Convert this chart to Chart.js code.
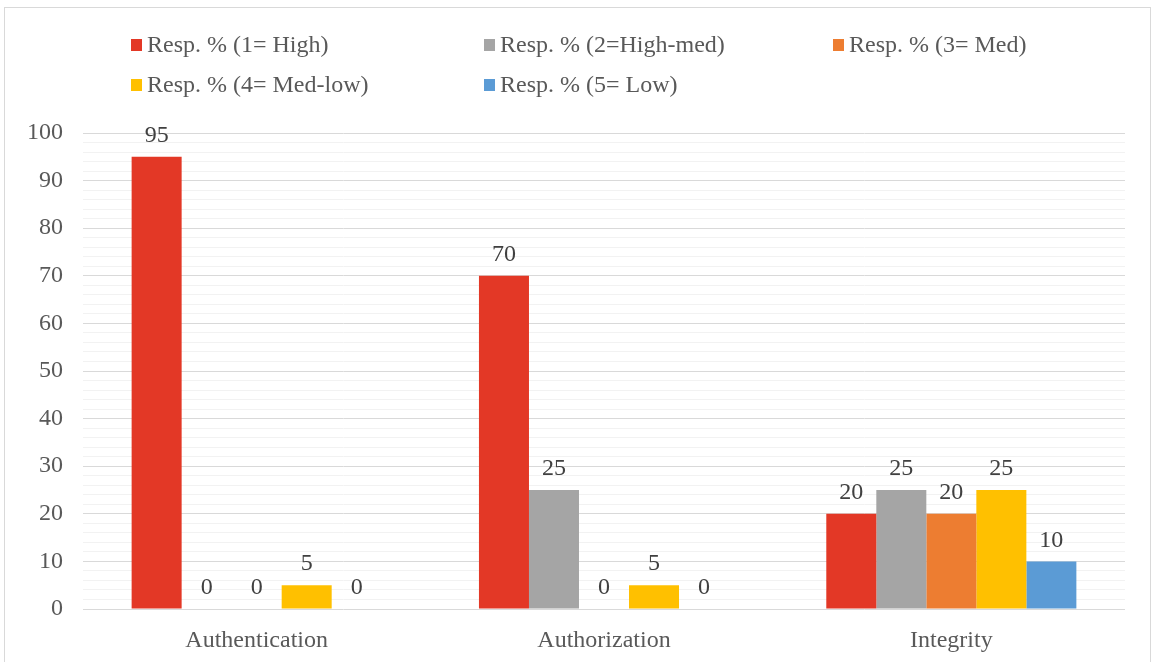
<!DOCTYPE html>
<html>
<head>
<meta charset="utf-8">
<script src="https://cdn.jsdelivr.net/npm/chart.js@4.4.1/dist/chart.umd.min.js"></script>
<style>
  body { margin: 0; background: #fff; }
  #marco { position: absolute; left: 4px; top: 7px; width: 1147px; height: 660px; border: 1px solid #d9d9d9; box-sizing: border-box; }
  #lienzo { position: absolute; left: 0; top: 0; width: 1155px; height: 662px; }
  .leyenda { position: absolute; font-family: 'Liberation Serif', serif; font-size: 24px; color: #595959; white-space: nowrap; line-height: 1; }
  .leyenda span { display: inline-block; width: 11px; height: 12px; margin-right: 5px; vertical-align: 1px; }
</style>
</head>
<body>
<div id="marco"></div>
<div id="lienzo"><canvas id="miGrafica" width="1155" height="662"></canvas></div>
<div id="leyendas"></div>
<script>
// Datos
const categorias = ['Authentication', 'Authorization', 'Integrity'];
const series = ['Resp. % (1= High)', 'Resp. % (2=High-med)', 'Resp. % (3= Med)', 'Resp. % (4= Med-low)', 'Resp. % (5= Low)'];
const alta = [95, 70, 20];
const altaMedia = [0, 25, 25];
const media = [0, 0, 20];
const mediaBaja = [5, 5, 25];
const baja = [0, 0, 10];
const colores = ['#E33826', '#A5A5A5', '#ED7D31', '#FFC000', '#5B9BD5'];

const valores = [alta, altaMedia, media, mediaBaja, baja];

// Leyenda en columnas, como la de Excel
const posLeyenda = [[131, 32], [484, 32], [833, 32], [131, 72], [484, 72]];
const cont = document.getElementById('leyendas');
series.forEach((nombre, i) => {
  const d = document.createElement('div');
  d.className = 'leyenda';
  d.style.left = posLeyenda[i][0] + 'px';
  d.style.top = posLeyenda[i][1] + 'px';
  d.innerHTML = '<span style="background:' + colores[i] + '"></span>' + nombre;
  cont.appendChild(d);
});

// Etiquetas de valor encima de cada barra
const etiquetasValor = {
  id: 'etiquetasValor',
  afterDatasetsDraw(chart) {
    const ctx = chart.ctx;
    ctx.save();
    ctx.font = "24px 'Liberation Serif'";
    ctx.fillStyle = '#404040';
    ctx.textAlign = 'center';
    ctx.textBaseline = 'bottom';
    chart.data.datasets.forEach((ds, i) => {
      chart.getDatasetMeta(i).data.forEach((bar, j) => {
        ctx.fillText(ds.data[j], bar.x, bar.y - 9);
      });
    });
    ctx.restore();
  }
};

new Chart(document.getElementById('miGrafica'), {
  type: 'bar',
  data: {
    labels: categorias,
    datasets: series.map((nombre, i) => ({
      label: nombre,
      data: valores[i],
      backgroundColor: colores[i],
      borderWidth: 0,
      barPercentage: 1,
      categoryPercentage: 0.72
    }))
  },
  options: {
    responsive: false,
    animation: false,
    layout: { padding: { top: 133, right: 30, left: 0, bottom: 0 } },
    plugins: {
      legend: { display: false },
      tooltip: { enabled: false }
    },
    scales: {
      x: {
        grid: { display: false },
        border: { display: false },
        ticks: { color: '#595959', font: { family: 'Liberation Serif', size: 24 }, padding: 9 },
        afterFit(scale) { scale.height = 53; }
      },
      y: {
        min: 0,
        max: 100,
        border: { display: false },
        grid: {
          drawTicks: false,
          color: (c) => (c.tick && c.tick.value % 10 === 0) ? '#d9d9d9' : '#f2f2f2'
        },
        ticks: {
          stepSize: 2,
          autoSkip: false,
          padding: 20,
          color: '#595959',
          font: { family: 'Liberation Serif', size: 24 },
          callback: (v) => v % 10 === 0 ? v : ''
        },
        afterFit(scale) { scale.width = 83; }
      }
    }
  },
  plugins: [etiquetasValor]
});
</script>
</body>
</html>
